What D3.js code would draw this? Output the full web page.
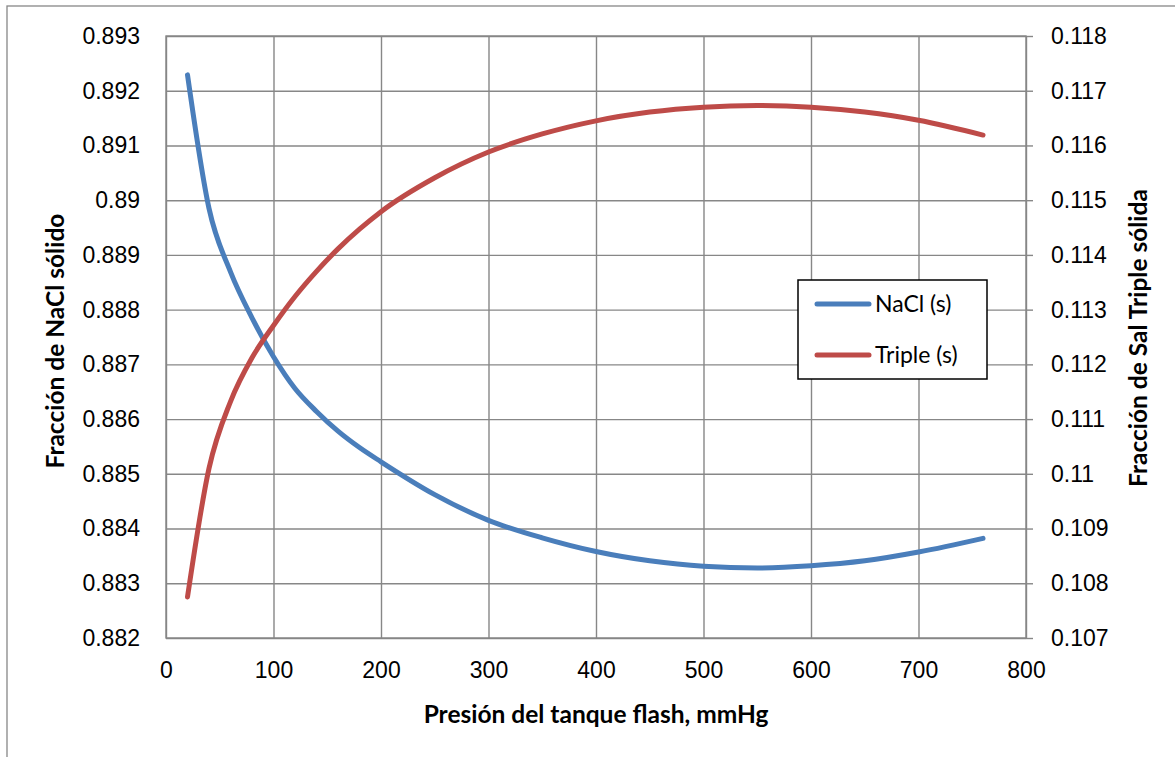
<!DOCTYPE html>
<html>
<head>
<meta charset="utf-8">
<script src="https://cdn.jsdelivr.net/npm/d3@7"></script>
<style>
  html, body { margin: 0; padding: 0; background: #fff; }
  svg { display: block; font-family: Lato, "Open Sans", sans-serif; }
</style>
</head>
<body>
<svg id="chart" width="1175" height="757"></svg>
<script>
// Presión del tanque flash (mmHg)
const presion = [20, 40, 60, 80, 100, 120, 140, 160, 180, 200, 250, 300, 350, 400, 450, 500, 550, 600, 650, 700, 760];
// Fracción de NaCl sólido (eje izquierdo)
const naclSolido = [0.89229, 0.88985, 0.88869, 0.88785, 0.88714, 0.88656, 0.88614, 0.88578, 0.88548, 0.88522, 0.88462,
                    0.88415, 0.88383, 0.88358, 0.88341, 0.88331, 0.88328, 0.88332, 0.88341, 0.88357, 0.88382];
// Fracción de Sal Triple sólida (eje derecho)
const tripleSolido = [0.10775, 0.11010, 0.11132, 0.11212, 0.11271, 0.11324, 0.11370, 0.11411, 0.11447, 0.11479, 0.11541,
                      0.11588, 0.11621, 0.11645, 0.11661, 0.11670, 0.11673, 0.11670, 0.11661, 0.11646, 0.11619];

const xTicks = [0, 100, 200, 300, 400, 500, 600, 700, 800];
const leftTicks = [0.882, 0.883, 0.884, 0.885, 0.886, 0.887, 0.888, 0.889, 0.890, 0.891, 0.892, 0.893];
const rightTicks = [0.107, 0.108, 0.109, 0.110, 0.111, 0.112, 0.113, 0.114, 0.115, 0.116, 0.117, 0.118];

const seriesNames = ["NaCl (s)", "Triple (s)"];
const seriesColors = ["#4A7EBB", "#BE4B48"];

const svg = d3.select("#chart");
const plot = { left: 166, right: 1026, top: 36, bottom: 638 };

const x = d3.scaleLinear().domain([0, 800]).range([plot.left, plot.right]);
const yL = d3.scaleLinear().domain([0.882, 0.893]).range([plot.bottom, plot.top]);
const yR = d3.scaleLinear().domain([0.107, 0.118]).range([plot.bottom, plot.top]);

const fmt = v => String(+v.toFixed(3));
const gridColor = "#878787";

// outer chart frame
svg.append("rect")
  .attr("x", 7).attr("y", 6).attr("width", 1200).attr("height", 800)
  .attr("fill", "none").attr("stroke", gridColor).attr("stroke-width", 1.3);

// horizontal grid + left axis labels
const gL = svg.append("g").attr("transform", `translate(${plot.left},0)`)
  .call(d3.axisLeft(yL).tickValues(leftTicks).tickFormat(fmt)
    .tickSize(-(plot.right - plot.left)).tickPadding(26));
// vertical grid + bottom axis labels
const gB = svg.append("g").attr("transform", `translate(0,${plot.bottom})`)
  .call(d3.axisBottom(x).tickValues(xTicks).tickFormat(d3.format("d"))
    .tickSize(-(plot.bottom - plot.top)).tickPadding(24));
// right axis with short outer ticks
const gR = svg.append("g").attr("transform", `translate(${plot.right},0)`)
  .call(d3.axisRight(yR).tickValues(rightTicks).tickFormat(fmt)
    .tickSize(7).tickPadding(18));

[gL, gB, gR].forEach(g => {
  g.select(".domain").remove();
  g.selectAll(".tick line").attr("stroke", gridColor).attr("stroke-width", 1.4);
  g.selectAll(".tick text").attr("fill", "#000").style("font-size", "23px");
});

// axis lines
svg.append("rect")
  .attr("x", plot.left).attr("y", plot.top)
  .attr("width", plot.right - plot.left).attr("height", plot.bottom - plot.top)
  .attr("fill", "none").attr("stroke", gridColor).attr("stroke-width", 1.4);

// series
const line = (yScale, vals) => d3.line()
  .x((d, i) => x(presion[i]))
  .y(d => yScale(d))
  .curve(d3.curveMonotoneX)(vals);

svg.append("path").attr("d", line(yL, naclSolido))
  .attr("fill", "none").attr("stroke", seriesColors[0])
  .attr("stroke-width", 5).attr("stroke-linecap", "round").attr("stroke-linejoin", "round");
svg.append("path").attr("d", line(yR, tripleSolido))
  .attr("fill", "none").attr("stroke", seriesColors[1])
  .attr("stroke-width", 5).attr("stroke-linecap", "round").attr("stroke-linejoin", "round");

// axis titles
svg.append("text")
  .attr("x", 596).attr("y", 723).attr("text-anchor", "middle")
  .style("font-size", "24.5px").style("font-weight", "bold")
  .text("Presión del tanque flash, mmHg");
svg.append("text")
  .attr("transform", "translate(64,341) rotate(-90)").attr("text-anchor", "middle")
  .style("font-size", "24.5px").style("font-weight", "bold")
  .text("Fracción de NaCl sólido");
svg.append("text")
  .attr("transform", "translate(1147,338) rotate(-90)").attr("text-anchor", "middle")
  .style("font-size", "24.5px").style("font-weight", "bold")
  .text("Fracción de Sal Triple sólida");

// legend
const leg = svg.append("g");
leg.append("rect")
  .attr("x", 798).attr("y", 280).attr("width", 189).attr("height", 99)
  .attr("fill", "#fff").attr("stroke", "#000").attr("stroke-width", 1.5);
seriesNames.forEach((name, i) => {
  const cy = 304 + i * 51;
  leg.append("line")
    .attr("x1", 817).attr("x2", 869).attr("y1", cy).attr("y2", cy)
    .attr("stroke", seriesColors[i]).attr("stroke-width", 5).attr("stroke-linecap", "round");
  leg.append("text")
    .attr("x", 875).attr("y", cy).attr("dy", "0.35em")
    .style("font-size", "23px").text(name);
});
</script>
</body>
</html>
